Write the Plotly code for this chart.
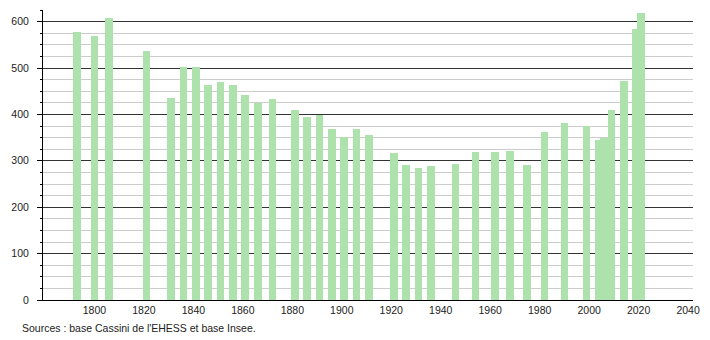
import plotly.graph_objects as go

years = [1793, 1800, 1806, 1821, 1831, 1836, 1841, 1846, 1851, 1856, 1861, 1866, 1872,
         1881, 1886, 1891, 1896, 1901, 1906, 1911, 1921, 1926, 1931, 1936, 1946, 1954,
         1962, 1968, 1975, 1982, 1990, 1999, 2004, 2006, 2009, 2014, 2019, 2021]
population = [577, 568, 607, 537, 435, 503, 503, 463, 470, 463, 441, 425, 434,
              409, 395, 399, 368, 351, 368, 355, 316, 291, 284, 288, 294, 320,
              318, 322, 292, 363, 382, 376, 344, 350, 409, 472, 585, 619]
x_ticks = [1800, 1820, 1840, 1860, 1880, 1900, 1920, 1940, 1960, 1980, 2000, 2020, 2040]
y_ticks = [0, 100, 200, 300, 400, 500, 600]
source_text = "Sources : base Cassini de l'EHESS et base Insee."

fig = go.Figure()
fig.add_trace(go.Bar(x=years, y=population, width=3.1,
                     marker=dict(color="#ade2ad", line=dict(width=0)),
                     hoverinfo="x+y"))

fig.update_layout(
    width=710, height=340,
    margin=dict(l=43, r=10, t=10, b=40),
    paper_bgcolor="white", plot_bgcolor="white",
    font=dict(family="Liberation Sans, Arial, sans-serif", size=10.5, color="#222"),
    showlegend=False,
    bargap=0,
    xaxis=dict(range=[1779.2, 2042.0], tickvals=x_ticks, ticks="", showgrid=False,
               showline=True, linecolor="black", linewidth=1, zeroline=False,
               fixedrange=True),
    yaxis=dict(range=[0, 625], tickvals=y_ticks, ticks="outside", ticklen=5,
               tickcolor="black", showline=True, linecolor="black", linewidth=1,
               ticklabelstandoff=6,
               showgrid=True, gridcolor="#333333", gridwidth=1, zeroline=False,
               minor=dict(dtick=25, ticks="outside", ticklen=2, tickcolor="black",
                          showgrid=True, gridcolor="#cccccc", gridwidth=1),
               fixedrange=True),
    annotations=[dict(text=source_text, x=(20 - 43) / (710 - 43 - 10),
                      y=-(328 - 300) / (340 - 10 - 40), xref="paper", yref="paper",
                      showarrow=False, xanchor="left", yanchor="middle",
                      font=dict(size=10.5, color="#222"))],
)

fig.write_html("out.html")
